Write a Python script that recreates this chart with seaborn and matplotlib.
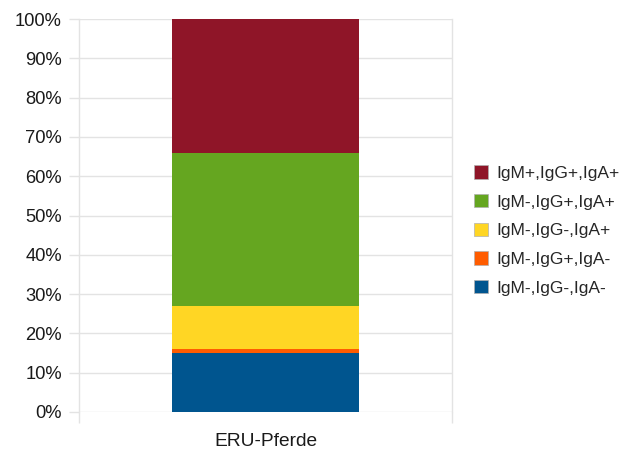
import matplotlib
matplotlib.use("Agg")
import matplotlib.pyplot as plt
from matplotlib.patches import Patch
from matplotlib.ticker import FixedLocator
import numpy as np
import pandas as pd
import seaborn as sns

# Antibody profile shares (percent), stacked from the bottom up
category = ["ERU-Pferde"]
groups = ["IgM-,IgG-,IgA-", "IgM-,IgG+,IgA-", "IgM-,IgG-,IgA+",
          "IgM-,IgG+,IgA+", "IgM+,IgG+,IgA+"]
shares = [15.0, 1.1, 10.8, 39.0, 34.1]
colors = ["#00558F", "#FF5C00", "#FFD624", "#65A620", "#8F1528"]
y_ticks = list(range(0, 101, 10))
y_tick_labels = [f"{v}%" for v in y_ticks]

sns.set_theme(style="white")
plt.rcParams["font.family"] = ["Liberation Sans", "DejaVu Sans"]

fig = plt.figure(figsize=(6.26, 4.53), dpi=100)
ax = fig.add_axes([79 / 626, 41 / 453, 373 / 626, 393 / 453])

# Overlay cumulative totals, tallest first, to form the stacked column
tops = np.cumsum(shares)
for i in range(len(groups) - 1, -1, -1):
    df = pd.DataFrame({"cat": category, "val": [tops[i]]})
    sns.barplot(data=df, x="cat", y="val", color=colors[i], width=0.5,
                saturation=1, linewidth=0, edgecolor="none", ax=ax, zorder=3)

ax.set_ylim(0, 100)
ax.set_xlim(-0.5, 0.5)
ax.set_yticks(y_ticks)
ax.set_yticklabels(y_tick_labels, fontsize=13.2, color="#1a1a1a")
ax.set_xlabel("")
ax.set_ylabel("")
ax.set_xticks([0])
ax.set_xticklabels(category, fontsize=13.8, color="#1a1a1a")

grid_c = "#e3e3e3"
ax.yaxis.grid(True, color=grid_c, linewidth=1, zorder=0)
ax.set_axisbelow(True)
for s in ["left", "right", "bottom", "top"]:
    ax.spines[s].set_visible(s in ("left", "right"))
    ax.spines[s].set_color(grid_c)
    ax.spines[s].set_linewidth(1)

ax.tick_params(axis="y", which="major", length=7.2, width=1, color=grid_c,
               pad=5.2, left=True)
ax.xaxis.set_minor_locator(FixedLocator([-0.5, 0.5]))
ax.tick_params(axis="x", which="minor", length=8, width=1, color=grid_c,
               bottom=True, direction="out")
ax.tick_params(axis="x", which="major", length=0, pad=15)

handles = [Patch(facecolor=colors[i], edgecolor="#b0b0b0", linewidth=0.5,
                 label=groups[i]) for i in range(len(groups) - 1, -1, -1)]
fig.legend(handles=handles, loc="center left",
           bbox_to_anchor=(474 / 626, 1 - 230.5 / 453), frameon=False,
           fontsize=12.5, handlelength=0.8, handleheight=0.8,
           handletextpad=0.5, labelspacing=0.75, borderpad=0,
           borderaxespad=0)

fig.savefig("out.png", dpi=100)
